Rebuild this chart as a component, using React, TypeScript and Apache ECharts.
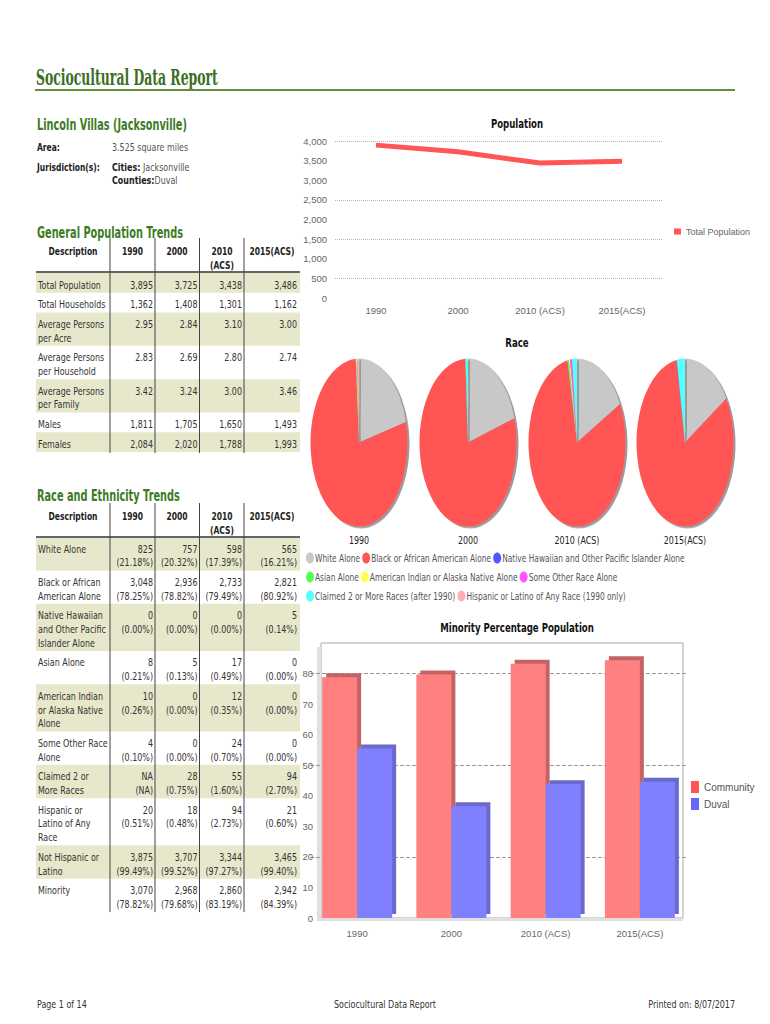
import React, { useEffect, useRef } from 'react';
import * as echarts from 'echarts';

// ---------- data ----------
const years = ['1990', '2000', '2010 (ACS)', '2015(ACS)'];
const tableYearHeads = ['1990', '2000', '2010\n(ACS)', '2015(ACS)'];

const genLabels = [
  'Total Population',
  'Total Households',
  'Average Persons\nper Acre',
  'Average Persons\nper Household',
  'Average Persons\nper Family',
  'Males',
  'Females',
];
const genFormats = ['int', 'int', 'dec', 'dec', 'dec', 'int', 'int'];
const gen1990 = [3895, 1362, 2.95, 2.83, 3.42, 1811, 2084];
const gen2000 = [3725, 1408, 2.84, 2.69, 3.24, 1705, 2020];
const gen2010 = [3438, 1301, 3.1, 2.8, 3.0, 1650, 1788];
const gen2015 = [3486, 1162, 3.0, 2.74, 3.46, 1493, 1993];

const raceLabels = [
  'White Alone',
  'Black or African\nAmerican Alone',
  'Native Hawaiian\nand Other Pacific\nIslander Alone',
  'Asian Alone',
  'American Indian\nor Alaska Native\nAlone',
  'Some Other Race\nAlone',
  'Claimed 2 or\nMore Races',
  'Hispanic or\nLatino of Any\nRace',
  'Not Hispanic or\nLatino',
  'Minority',
];
const raceCount1990 = [825, 3048, 0, 8, 10, 4, null, 20, 3875, 3070];
const raceCount2000 = [757, 2936, 0, 5, 0, 0, 28, 18, 3707, 2968];
const raceCount2010 = [598, 2733, 0, 17, 12, 24, 55, 94, 3344, 2860];
const raceCount2015 = [565, 2821, 5, 0, 0, 0, 94, 21, 3465, 2942];
const racePct1990 = [21.18, 78.25, 0, 0.21, 0.26, 0.1, null, 0.51, 99.49, 78.82];
const racePct2000 = [20.32, 78.82, 0, 0.13, 0, 0, 0.75, 0.48, 99.52, 79.68];
const racePct2010 = [17.39, 79.49, 0, 0.49, 0.35, 0.7, 1.6, 2.73, 97.27, 83.19];
const racePct2015 = [16.21, 80.92, 0.14, 0, 0, 0, 2.7, 0.6, 99.4, 84.39];

const pieNames = [
  'White Alone',
  'Black or African American Alone',
  'Native Hawaiian and Other Pacific Islander Alone',
  'Asian Alone',
  'American Indian or Alaska Native Alone',
  'Some Other Race Alone',
  'Claimed 2 or More Races (after 1990)',
  'Hispanic or Latino of Any Race (1990 only)',
];
const pieColors = ['#c8c8c8', '#ff5555', '#5555ff', '#55ff55', '#ffff55', '#ff55ff', '#55ffff', '#ffafaf'];
const legendRows = [[0, 1, 2], [3, 4, 5], [6, 7]];

const duvalMinorityPct = [55.5, 36.6, 43.8, 44.6];

const footerTexts = ['Page 1 of 14', 'Sociocultural Data Report', 'Printed on: 8/07/2017'];

// ---------- helpers ----------
const F = '"DejaVu Sans", sans-serif';
const FS = '"DejaVu Serif", serif';
const NARROW = '"Liberation Sans", sans-serif';

const genCols = [gen1990, gen2000, gen2010, gen2015];
const raceCounts = [raceCount1990, raceCount2000, raceCount2010, raceCount2015];
const racePcts = [racePct1990, racePct2000, racePct2010, racePct2015];

let ctx: CanvasRenderingContext2D | null = null;
function measure(text: string, font: string) {
  if (!ctx) ctx = document.createElement('canvas').getContext('2d');
  ctx!.font = font;
  return ctx!.measureText(text).width;
}
function fit(text: string, font: string, w: number) {
  return w / measure(text, font);
}

function txt(x: number, y: number, text: string, font: string, fill: string, align = 'left', sx = 1, rich?: any) {
  return {
    type: 'text',
    x,
    y,
    scaleX: sx,
    silent: true,
    style: {
      text,
      x: 0,
      y: 0,
      font,
      fill,
      align,
      textAlign: align,
      verticalAlign: 'middle',
      textVerticalAlign: 'middle',
      rich,
    },
  };
}
function rect(x: number, y: number, w: number, h: number, fill: string, stroke?: string) {
  return {
    type: 'rect',
    silent: true,
    shape: { x, y, width: w, height: h },
    style: stroke ? { fill, stroke, lineWidth: 1 } : { fill },
  };
}
function line(x1: number, y1: number, x2: number, y2: number, stroke: string, lw = 1) {
  return { type: 'line', silent: true, shape: { x1, y1, x2, y2 }, style: { stroke, lineWidth: lw } };
}

const fmtInt = (v: number) => v.toLocaleString('en-US');

function buildMain() {
  const sBody = fit('Total Population', `11px ${F}`, 63);
  const sBold = fit('Description', `bold 11px ${F}`, 49);
  const sHead = fit('Lincoln Villas (Jacksonville)', `bold 16px ${F}`, 150);
  const sTitle = fit('Sociocultural Data Report', `bold 23px ${FS}`, 182);
  const sChart = fit('Minority Percentage Population', `bold 13px ${F}`, 154);
  const sLeg = fit('Black or African American Alone', `11px ${F}`, 120);

  const body = `11px ${F}`;
  const bold = `bold 11px ${F}`;
  const head = `bold 16px ${F}`;
  const green = '#3e7a1f';
  const shade = '#e7e7cb';
  const dark = '#333';

  const g: any[] = [];
  // header
  g.push(txt(36, 77, 'Sociocultural Data Report', `bold 23px ${FS}`, '#3b6e1f', 'left', sTitle));
  g.push(line(35, 90, 735, 90, '#5f8f36', 2));
  g.push(txt(37, 125, 'Lincoln Villas (Jacksonville)', head, green, 'left', sHead));
  g.push(txt(37, 147, 'Area:', bold, '#222', 'left', sBold));
  g.push(txt(112, 147, '3.525 square miles', body, '#555', 'left', sBody));
  g.push(txt(37, 167, 'Jurisdiction(s):', bold, '#222', 'left', sBold));
  const rich = { b: { font: bold, fill: '#222' } };
  g.push(txt(112, 167, '{b|Cities:} Jacksonville', body, '#555', 'left', sBody, rich));
  g.push(txt(112, 180, '{b|Counties:}Duval', body, '#555', 'left', sBody, rich));

  const colLines = [110, 155, 199.5, 244];
  const colRight = [153, 197.5, 242, 297];
  const headCenters = [73, 132.5, 177, 222, 272];
  const LH = 13.7;

  function tableHeader(headY: number, ruleY: number, lineTop: number, lineBottom: number) {
    g.push(txt(headCenters[0], headY, 'Description', bold, '#222', 'center', sBold));
    tableYearHeads.forEach((h, j) => {
      h.split('\n').forEach((part, k) => {
        g.push(txt(headCenters[j + 1], headY + k * 14, part, bold, '#222', 'center', sBold));
      });
    });
    g.push(line(36, ruleY, 300, ruleY, '#666', 2));
    colLines.forEach((x) => g.push(line(x, lineTop, x, lineBottom, '#444', 1)));
  }

  // General population table
  g.push(txt(37, 233, 'General Population Trends', head, green, 'left', sHead));
  let top = 273;
  const genRects: any[] = [];
  const genTexts: any[] = [];
  genLabels.forEach((lab, i) => {
    const parts = lab.split('\n');
    const h = 6 + LH * parts.length;
    if (i % 2 === 0) genRects.push(rect(36, top, 264, h, shade));
    parts.forEach((p, k) => genTexts.push(txt(38, top + 11.5 + k * LH, p, body, dark, 'left', sBody)));
    genCols.forEach((col, j) => {
      const v = col[i];
      const s = genFormats[i] === 'int' ? fmtInt(v) : v.toFixed(2);
      genTexts.push(txt(colRight[j], top + 11.5, s, body, dark, 'right', sBody));
    });
    top += h;
  });
  g.push(...genRects);
  tableHeader(251, 272, 238, top + 1);
  g.push(...genTexts);

  // Race table
  g.push(txt(37, 496, 'Race and Ethnicity Trends', head, green, 'left', sHead));
  top = 537;
  const rRects: any[] = [];
  const rTexts: any[] = [];
  raceLabels.forEach((lab, i) => {
    const parts = lab.split('\n');
    const n = Math.max(parts.length, 2);
    const h = 6 + LH * n;
    if (i % 2 === 0) rRects.push(rect(36, top, 264, h, shade));
    parts.forEach((p, k) => rTexts.push(txt(38, top + 11.5 + k * LH, p, body, dark, 'left', sBody)));
    raceCounts.forEach((col, j) => {
      const c = col[i];
      const p = racePcts[j][i];
      const cs = c === null ? 'NA' : fmtInt(c);
      const ps = p === null ? '(NA)' : `(${p.toFixed(2)}%)`;
      rTexts.push(txt(colRight[j], top + 11.5, cs, body, dark, 'right', sBody));
      rTexts.push(txt(colRight[j], top + 11.5 + LH, ps, body, dark, 'right', sBody));
    });
    top += h;
  });
  g.push(...rRects);
  tableHeader(516, 537, 503, top);
  g.push(...rTexts);

  // chart titles
  const chartTitle = `bold 13px ${F}`;
  g.push(txt(517, 124, 'Population', chartTitle, '#111', 'center', sChart));
  g.push(txt(517, 343, 'Race', chartTitle, '#111', 'center', sChart));
  g.push(txt(517, 628, 'Minority Percentage Population', chartTitle, '#111', 'center', sChart));

  // plot box with light 3D wall / floor of the minority chart
  g.push(rect(321, 643, 362, 275, '#fff', '#aaa'));
  g.push(rect(317, 647, 4, 274, '#e0e0e0'));
  g.push(rect(317, 918, 366, 3, '#e0e0e0'));

  // pie labels
  const pieCxPage = [359, 468, 577, 685];
  years.forEach((y, i) => g.push(txt(pieCxPage[i], 540, y, body, '#222', 'center', sBody)));

  // race legend
  const legFont = `11px ${F}`;
  const rowY = [558, 577, 596];
  legendRows.forEach((row, r) => {
    let x = 306;
    row.forEach((k) => {
      g.push({
        type: 'ellipse',
        silent: true,
        shape: { cx: x + 4, cy: rowY[r], rx: 4, ry: 5.5 },
        style: { fill: pieColors[k] },
      });
      g.push(txt(x + 9, rowY[r], pieNames[k], legFont, '#555', 'left', sLeg));
      x += 9 + measure(pieNames[k], legFont) * sLeg + 2;
    });
  });

  // footer
  g.push(txt(37, 1004, footerTexts[0], body, '#333', 'left', sBody));
  g.push(txt(385, 1004, footerTexts[1], body, '#333', 'center', sBody));
  g.push(txt(735, 1004, footerTexts[2], body, '#333', 'right', sBody));

  const T = 'rgba(0,0,0,0)';
  const popSplit = [T, '#b5b5b5', T, '#b5b5b5', T, '#b5b5b5', T, T, '#b5b5b5'];
  const barSplit = [T, T, '#999', T, T, '#999', T, T, '#999', T];
  const axisText = { color: '#666', fontSize: 9.5, fontFamily: NARROW };

  return {
    animation: false,
    backgroundColor: '#fff',
    graphic: { elements: g },
    legend: [
      {
        data: [{ name: 'Total Population', itemStyle: { color: '#ff5555' } }],
        left: 669,
        top: 222,
        icon: 'rect',
        itemWidth: 7,
        itemHeight: 6,
        itemGap: 0,
        selectedMode: false,
        textStyle: { color: '#666', fontSize: 9, fontFamily: NARROW },
      },
      {
        data: [
          { name: 'Community', itemStyle: { color: '#ff5555' } },
          { name: 'Duval', itemStyle: { color: '#6666ff' } },
        ],
        orient: 'vertical',
        left: 686,
        top: 776,
        icon: 'rect',
        itemWidth: 8,
        itemHeight: 12,
        itemGap: 5,
        selectedMode: false,
        textStyle: { color: '#555', fontSize: 10, fontFamily: NARROW },
      },
    ],
    grid: [
      { left: 335, top: 141, width: 328, height: 157 },
      { left: 310, top: 643, width: 377, height: 275 },
    ],
    xAxis: [
      {
        type: 'category',
        gridIndex: 0,
        data: years,
        axisLine: { show: false },
        axisTick: { show: false },
        axisLabel: { ...axisText, margin: 7 },
      },
      {
        type: 'category',
        gridIndex: 1,
        data: years,
        axisLine: { show: false },
        axisTick: { show: false },
        axisLabel: { ...axisText, margin: 10 },
      },
    ],
    yAxis: [
      {
        type: 'value',
        gridIndex: 0,
        min: 0,
        max: 4000,
        interval: 500,
        axisLine: { show: false },
        axisTick: { show: false },
        axisLabel: { ...axisText, margin: 8, formatter: (v: number) => fmtInt(v) },
        splitLine: { lineStyle: { type: 'dotted', color: popSplit } },
      },
      {
        type: 'value',
        gridIndex: 1,
        min: 0,
        max: 90,
        interval: 10,
        axisLine: { show: false },
        axisTick: { show: false },
        axisLabel: { ...axisText, margin: -3, formatter: (v: number) => (v >= 90 ? '' : String(v)) },
        splitLine: { lineStyle: { type: 'dashed', color: barSplit } },
      },
    ],
    series: [
      {
        type: 'line',
        name: 'Total Population',
        xAxisIndex: 0,
        yAxisIndex: 0,
        data: genCols.map((c) => c[0]),
        showSymbol: false,
        lineStyle: { color: '#ff5555', width: 5 },
        itemStyle: { color: '#ff5555' },
        silent: true,
      },
      {
        type: 'bar',
        name: 'Community',
        xAxisIndex: 1,
        yAxisIndex: 1,
        data: racePcts.map((c) => c[9]),
        barWidth: 35,
        barGap: '0%',
        silent: true,
        itemStyle: { color: '#ff8080', shadowColor: '#c46464', shadowOffsetX: 4, shadowOffsetY: -4, shadowBlur: 0 },
      },
      {
        type: 'bar',
        name: 'Duval',
        xAxisIndex: 1,
        yAxisIndex: 1,
        data: duvalMinorityPct,
        barWidth: 35,
        barGap: '0%',
        silent: true,
        itemStyle: { color: '#8080ff', shadowColor: '#6a6acc', shadowOffsetX: 4, shadowOffsetY: -4, shadowBlur: 0 },
      },
    ],
  };
}

function buildPie() {
  const centersX = [59, 168, 277, 385];
  return {
    animation: false,
    series: years.map((y, j) => ({
      type: 'pie',
      name: y,
      center: [centersX[j], 50],
      radius: 48.5,
      startAngle: 90,
      clockwise: true,
      silent: true,
      label: { show: false },
      labelLine: { show: false },
      itemStyle: { borderWidth: 0, shadowColor: '#9a9a9a', shadowOffsetX: 2, shadowOffsetY: 1, shadowBlur: 0 },
      data: pieNames.map((name, k) => {
        let v: number | null;
        if (k < 7) v = raceCounts[j][k];
        else v = j === 0 ? raceCounts[j][7] : 0;
        return { name, value: v === null ? 0 : v, itemStyle: { color: pieColors[k] } };
      }),
    })),
  };
}

export default function App() {
  const mainRef = useRef<HTMLDivElement>(null);
  const pieRef = useRef<HTMLDivElement>(null);
  useEffect(() => {
    const main = echarts.init(mainRef.current!, undefined, { renderer: 'svg' });
    const pie = echarts.init(pieRef.current!, undefined, { renderer: 'svg' });
    main.setOption(buildMain() as any);
    pie.setOption(buildPie() as any);
    return () => {
      main.dispose();
      pie.dispose();
    };
  }, []);
  return (
    <div>
      <div ref={mainRef} style={{ position: 'absolute', left: 0, top: 0, width: 770, height: 1024 }} />
      <div
        ref={pieRef}
        style={{
          position: 'absolute',
          left: 300,
          top: 356.4,
          width: 450,
          height: 100,
          transform: 'scaleY(1.732)',
          transformOrigin: '0 0',
        }}
      />
    </div>
  );
}
